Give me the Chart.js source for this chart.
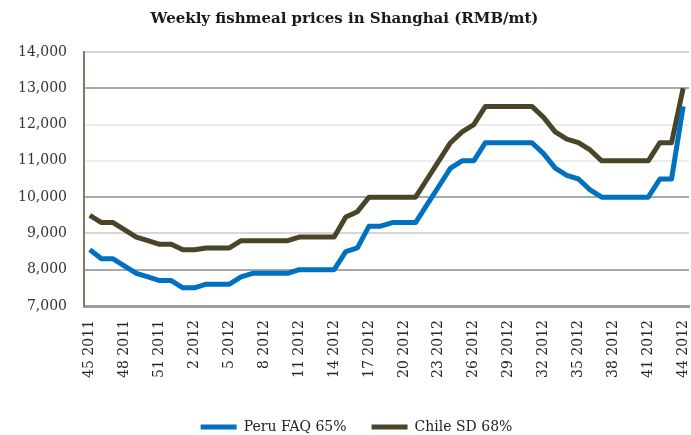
<!DOCTYPE html>
<html>
<head>
<meta charset="utf-8">
<script src="https://cdn.jsdelivr.net/npm/chart.js@4.4.1/dist/chart.umd.min.js"></script>
<style>
  html, body { margin: 0; padding: 0; background: #ffffff; }
  canvas { display: block; }
</style>
</head>
<body>
<canvas id="c" width="691" height="435"></canvas>
<script>
const weeks = [
  "45 2011","46 2011","47 2011","48 2011","49 2011","50 2011","51 2011","52 2011",
  "1 2012","2 2012","3 2012","4 2012","5 2012","6 2012","7 2012","8 2012","9 2012","10 2012",
  "11 2012","12 2012","13 2012","14 2012","15 2012","16 2012","17 2012","18 2012","19 2012","20 2012",
  "21 2012","22 2012","23 2012","24 2012","25 2012","26 2012","27 2012","28 2012","29 2012","30 2012",
  "31 2012","32 2012","33 2012","34 2012","35 2012","36 2012","37 2012","38 2012","39 2012","40 2012",
  "41 2012","42 2012","43 2012","44 2012"
];
const peruFAQ65 = [
  8550, 8300, 8300, 8100, 7900, 7800, 7700, 7700, 7500, 7500,
  7600, 7600, 7600, 7800, 7900, 7900, 7900, 7900, 8000, 8000,
  8000, 8000, 8500, 8600, 9200, 9200, 9300, 9300, 9300, 9800,
  10300, 10800, 11000, 11000, 11500, 11500, 11500, 11500, 11500, 11200,
  10800, 10600, 10500, 10200, 10000, 10000, 10000, 10000, 10000, 10500,
  10500, 12500
];
const chileSD68 = [
  9500, 9300, 9300, 9100, 8900, 8800, 8700, 8700, 8550, 8550,
  8600, 8600, 8600, 8800, 8800, 8800, 8800, 8800, 8900, 8900,
  8900, 8900, 9450, 9600, 10000, 10000, 10000, 10000, 10000, 10500,
  11000, 11500, 11800, 12000, 12500, 12500, 12500, 12500, 12500, 12200,
  11800, 11600, 11500, 11300, 11000, 11000, 11000, 11000, 11000, 11500,
  11500, 13000
];
const seriesNames = ["Peru FAQ 65%", "Chile SD 68%"];
const titleText = "Weekly fishmeal prices in Shanghai (RMB/mt)";
const yMin = 7000, yMax = 14000, yStep = 1000;
const labelEvery = 3;

const colors = ["#0070c0", "#4a4429"];
const serif = "'DejaVu Serif', serif";

const legendShift = {
  id: 'legendShift',
  afterLayout(chart) {
    const l = chart.legend;
    l.top += 9; l.bottom += 9;
    l.left += 12; l.right += 12;
  }
};

function gridColor(ctx) {
  const v = ctx.tick && ctx.tick.value;
  if (v === 13000 || v === 10000 || v === 8000) return '#a9a9a9';
  if (v === 14000 || v === 9000) return '#d6d6d6';
  return '#ececec';
}

new Chart(document.getElementById('c'), {
  type: 'line',
  data: {
    labels: weeks,
    datasets: [
      { label: seriesNames[0], data: peruFAQ65, borderColor: colors[0], backgroundColor: colors[0],
        borderWidth: 5, pointRadius: 0, tension: 0, borderJoinStyle: 'round' },
      { label: seriesNames[1], data: chileSD68, borderColor: colors[1], backgroundColor: colors[1],
        borderWidth: 5, pointRadius: 0, tension: 0, borderJoinStyle: 'round' }
    ]
  },
  options: {
    responsive: false,
    animation: false,
    devicePixelRatio: 1,
    layout: { padding: { left: 0, right: 2, top: 0, bottom: 0 } },
    plugins: {
      title: {
        display: true, text: titleText, color: '#1a1a1a',
        font: { family: serif, size: 15, weight: 'bold' },
        padding: { top: 10, bottom: 24 }
      },
      legend: {
        display: true, position: 'bottom',
        labels: {
          boxWidth: 36, boxHeight: 5, padding: 25, color: '#222',
          font: { family: serif, size: 14 },
          generateLabels(chart) {
            return chart.data.datasets.map((ds, i) => ({
              text: ds.label, fillStyle: ds.borderColor, strokeStyle: ds.borderColor,
              lineWidth: 0, hidden: false, datasetIndex: i, fontColor: '#222'
            }));
          }
        }
      },
      tooltip: { enabled: false }
    },
    scales: {
      x: {
        type: 'category',
        offset: true,
        grid: { display: false, drawTicks: false },
        border: { display: true, color: '#9e9e9e', width: 3 },
        ticks: {
          autoSkip: false, minRotation: 90, maxRotation: 90, padding: 14,
          color: '#262626', font: { family: serif, size: 14 },
          callback(val, idx) { return idx % labelEvery === 0 ? this.getLabelForValue(val) : ''; }
        },
        afterFit(scale) { scale.height = 80; scale.paddingLeft = 0; scale.paddingRight = 0; }
      },
      y: {
        min: yMin, max: yMax,
        grid: { color: gridColor, lineWidth: 2, drawTicks: false },
        border: { display: true, color: '#8a7867', width: 2 },
        ticks: {
          stepSize: yStep, padding: 17, color: '#333',
          font: { family: serif, size: 14 },
          callback(v) { return v.toLocaleString('en-US'); }
        },
        afterFit(scale) { scale.width = 84; }
      }
    }
  },
  plugins: [legendShift]
});
</script>
</body>
</html>
